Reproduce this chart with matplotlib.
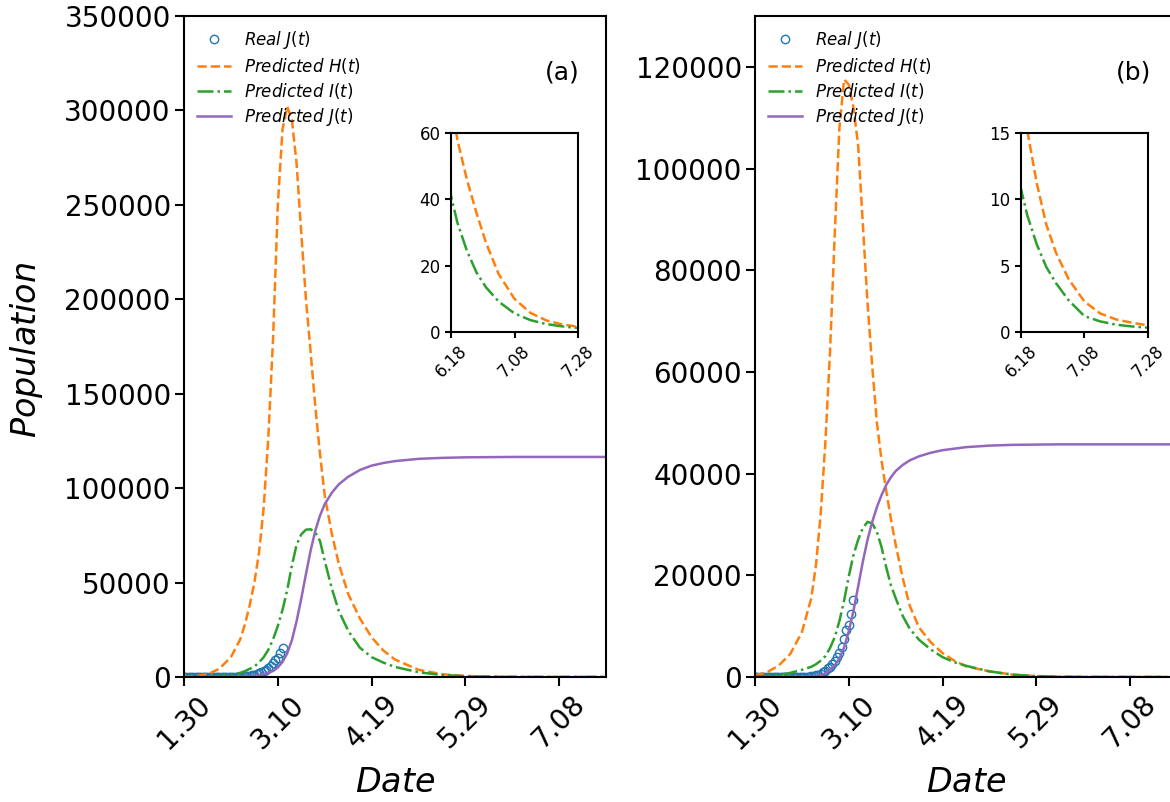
import numpy as np
import matplotlib
matplotlib.use("Agg")
import matplotlib.pyplot as plt

# days since 1.30
real_days = list(range(0, 43))
real_J = [2, 2, 2, 2, 2, 2, 2, 2, 3, 3, 3, 3, 3, 3, 3, 3, 3, 3, 3, 3, 3, 3,
          20, 79, 152, 229, 322, 400, 650, 888, 1128, 1694, 2036, 2502, 3089,
          3858, 4636, 5883, 7375, 9172, 10149, 12462, 15113]

# model curves
days = [0, 5, 10, 15, 20, 24, 26, 28, 30, 32, 34, 36, 38, 40, 42, 44, 46, 48,
        50, 52, 54, 56, 58, 60, 63, 66, 70, 75, 80, 85, 90, 100, 110, 120, 130,
        140, 142, 145, 148, 151, 155, 160, 165, 170, 175, 180]

H_a = [200, 500, 1400, 4300, 10500, 20000, 28000, 38000, 50000, 66000, 90000,
       128000, 180000, 250000, 290000, 302000, 295000, 272000, 235000, 200000,
       172000, 143000, 118000, 96000, 76000, 60000, 44000, 31000, 21000, 14000,
       9200, 3800, 1450, 540, 195, 70, 58, 46, 36, 27, 17.5, 10, 5.8, 3.5, 2.3, 1.6]
I_a = [50, 100, 200, 500, 1100, 2200, 3100, 4300, 5500, 7800, 10500, 14500,
       20000, 27000, 35500, 46000, 59000, 70000, 75500, 78000, 78200, 76500,
       72000, 61500, 47000, 35000, 24500, 15500, 10500, 7600, 5300, 2500, 1050,
       430, 140, 41, 33, 24.5, 18, 13.5, 9.2, 5.6, 3.6, 2.4, 1.7, 1.2]
J_a = [2, 10, 25, 60, 130, 260, 370, 520, 740, 1050, 1500, 2150, 3200, 5000,
       8000, 12500, 19500, 29500, 41500, 54500, 67000, 77500, 85500, 91500,
       97500, 102000, 106000, 109600, 111900, 113300, 114300, 115500, 116000,
       116300, 116400, 116500, 116500, 116500, 116500, 116500, 116500, 116500,
       116500, 116500, 116500, 116500]

H_b = [300, 900, 2200, 4500, 8800, 15500, 22000, 32000, 46000, 64000, 87000,
       108000, 117500, 116500, 112000, 104500, 89000, 73500, 61000, 50000,
       42500, 36500, 31000, 26000, 19500, 14000, 9700, 6800, 4700, 3200, 2100,
       1100, 450, 170, 55, 19, 15.2, 11.2, 8.1, 6.0, 4.0, 2.3, 1.4, 0.95, 0.7, 0.5]
I_b = [100, 200, 400, 800, 1400, 2000, 2500, 3200, 4100, 5700, 7800, 11000,
       15000, 19800, 24000, 27000, 29300, 30500, 30200, 28500, 25500, 21500,
       18000, 15500, 12000, 9500, 7300, 5400, 3900, 2900, 2200, 1100, 450, 170,
       35, 10.8, 8.8, 6.6, 4.9, 3.7, 2.4, 1.2, 0.8, 0.55, 0.42, 0.33]
J_b = [2, 6, 10, 25, 60, 140, 230, 350, 700, 1400, 2300, 3600, 5800, 9000,
       13000, 17800, 22700, 27000, 30500, 33400, 35800, 37800, 39300, 40500,
       41700, 42600, 43400, 44100, 44600, 44900, 45200, 45500, 45650, 45700,
       45750, 45750, 45750, 45750, 45750, 45750, 45750, 45750, 45750, 45750,
       45750, 45750]

main_ticks = [0, 40, 80, 120, 160]
main_labels = ["1.30", "3.10", "4.19", "5.29", "7.08"]
inset_ticks = [140, 160, 180]
inset_labels = ["6.18", "7.08", "7.28"]

plt.rcParams["axes.linewidth"] = 1.5
plt.rcParams["xtick.major.width"] = 1.5
plt.rcParams["ytick.major.width"] = 1.5
plt.rcParams["xtick.major.size"] = 6.5
plt.rcParams["ytick.major.size"] = 6.5

fig = plt.figure(figsize=(11.7, 8.02), dpi=100)


def panel(rect, inset_rect, H, I, J, ymax, yticks, tag, inset_ymax, inset_yticks):
    ax = fig.add_axes(rect)
    ax.plot(real_days, real_J, "o", mfc="none", mec="#1f77b4", ms=6, mew=1.0,
            label=r"$Real\ J(t)$")
    ax.plot(days, H, "--", color="#ff7f0e", lw=1.8, label=r"$Predicted\ H(t)$")
    ax.plot(days, I, "-.", color="#2ca02c", lw=1.8, label=r"$Predicted\ I(t)$")
    ax.plot(days, J, "-", color="#9467bd", lw=1.8, label=r"$Predicted\ J(t)$")
    ax.set_xlim(0, 180)
    ax.set_ylim(0, ymax)
    ax.set_yticks(yticks)
    ax.set_xticks(main_ticks)
    ax.set_xticklabels(main_labels, rotation=45)
    ax.tick_params(labelsize=20, pad=3)
    ax.set_xlabel(r"$Date$", fontsize=24)
    ax.xaxis.set_label_coords(0.5, -0.135)
    ax.legend(loc="upper left", frameon=False, fontsize=12, labelspacing=0.3,
              borderaxespad=0.4)
    ax.text(0.896, 0.914, tag, transform=ax.transAxes, fontsize=18,
            ha="center", va="center")

    ins = fig.add_axes(inset_rect)
    ins.plot(days, H, "--", color="#ff7f0e", lw=1.8)
    ins.plot(days, I, "-.", color="#2ca02c", lw=1.8)
    ins.set_xlim(140, 180)
    ins.set_ylim(0, inset_ymax)
    ins.set_yticks(inset_yticks)
    ins.set_xticks(inset_ticks)
    ins.set_xticklabels(inset_labels, rotation=45)
    ins.tick_params(labelsize=12, length=4)
    return ax


ax_a = panel([0.1573, 0.1559, 0.3607, 0.8242], [0.3855, 0.586, 0.1085, 0.248],
             H_a, I_a, J_a, 350000, list(range(0, 350001, 50000)), "(a)",
             60, [0, 20, 40, 60])
ax_a.set_ylabel(r"$Population$", fontsize=24)
ax_a.yaxis.set_label_coords(-0.33, 0.495)

panel([0.6453, 0.1559, 0.3607, 0.8242], [0.8726, 0.586, 0.1085, 0.248],
      H_b, I_b, J_b, 130000, list(range(0, 120001, 20000)), "(b)",
      15, [0, 5, 10, 15])

fig.savefig("out.png", dpi=100)
